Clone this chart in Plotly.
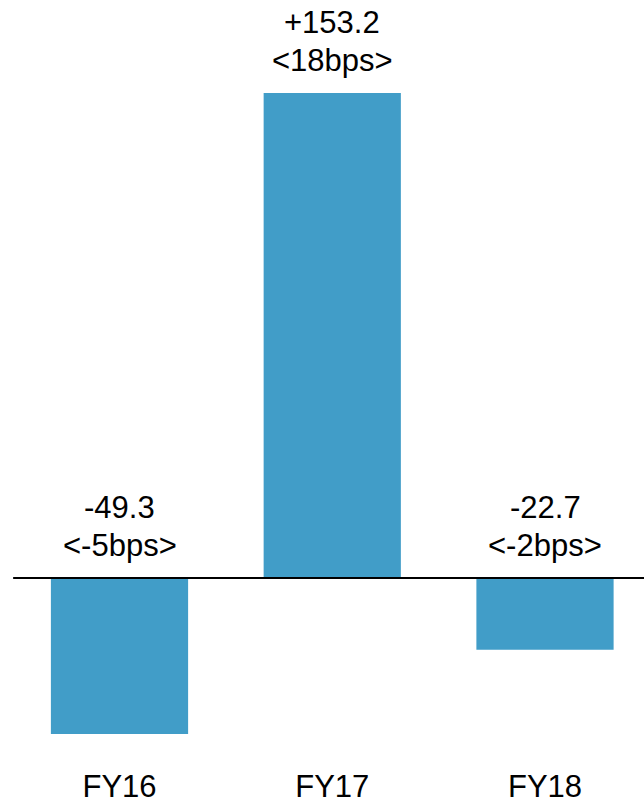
import plotly.graph_objects as go

categories = ["FY16", "FY17", "FY18"]
values = [-49.3, 153.2, -22.7]
value_labels = ["-49.3", "+153.2", "-22.7"]
bps_labels = ["<-5bps>", "<18bps>", "<-2bps>"]

BAR_COLOR = "#419DC8"
FONT = "Liberation Sans, Arial, sans-serif"
FSIZE = 31

fig = go.Figure()
fig.add_trace(go.Bar(
    x=list(range(len(categories))),
    y=values,
    marker=dict(color=BAR_COLOR, line=dict(width=0)),
    width=0.645,
    hoverinfo="skip",
))

for i, (v, a, b) in enumerate(zip(values, value_labels, bps_labels)):
    base = max(v, 0)
    fig.add_annotation(
        x=i, y=base, xref="x", yref="y",
        text=b, showarrow=False, yanchor="bottom", yshift=13,
        font=dict(family=FONT, size=FSIZE, color="black"),
    )
    fig.add_annotation(
        x=i, y=base, xref="x", yref="y",
        text=a, showarrow=False, yanchor="bottom", yshift=51,
        font=dict(family=FONT, size=FSIZE, color="black"),
    )

fig.add_shape(type="line", xref="x", yref="y",
              x0=-0.5, x1=2.5, y0=0, y1=0,
              line=dict(color="black", width=2))

H = 803
bottom_margin = 50
zero_px = 578
px_per_unit = (578 - 93) / 153.2
plot_h = H - bottom_margin
y_top = zero_px / px_per_unit
y_bot = -(plot_h - zero_px) / px_per_unit

fig.update_layout(
    width=644, height=H,
    margin=dict(l=0, r=0, t=0, b=bottom_margin),
    paper_bgcolor="white", plot_bgcolor="white",
    showlegend=False,
    xaxis=dict(
        range=[-119.5 / 212.75, (644 - 119.5) / 212.75],
        tickmode="array", tickvals=list(range(len(categories))), ticktext=categories,
        showgrid=False, zeroline=False, showline=False, ticks="",
        ticklabelstandoff=12,
        tickfont=dict(family=FONT, size=FSIZE, color="black"),
        fixedrange=True,
    ),
    yaxis=dict(
        range=[y_bot, y_top], visible=False, showgrid=False, zeroline=False,
        fixedrange=True,
    ),
)

fig.write_html("out.html")
